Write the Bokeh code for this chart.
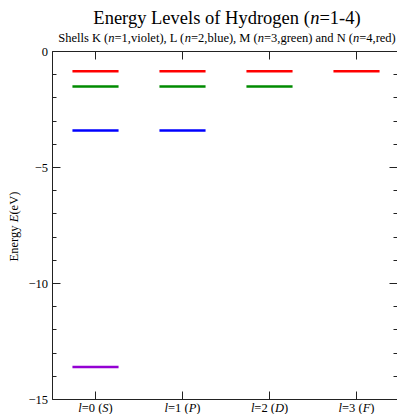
import math
from bokeh.plotting import figure
from bokeh.models import Label, LinearAxis, FixedTicker, SingleIntervalTicker, Range1d
from bokeh.embed import file_html
from bokeh.resources import INLINE

# ---------------- data ----------------
n_values = [1, 2, 3, 4]
energies = [-13.6, -3.4, -1.51, -0.85]          # eV
shell_colors = ["#9400d3", "#0000ff", "#008b00", "#ff0000"]
l_values = [0, 1, 2, 3]
l_letters = ["S", "P", "D", "F"]
y_ticks_major = 5
y_min, y_max = -15, 0

title_pieces = [("Energy Levels of Hydrogen (", False), ("n", True), ("=1-4)", False)]
subtitle_pieces = [("Shells K (", False), ("n", True), ("=1,violet), L (", False), ("n", True),
                   ("=2,blue), M (", False), ("n", True), ("=3,green) and N (", False),
                   ("n", True), ("=4,red)", False)]
ylabel_pieces = [("Energy ", False), ("E", True), (" (eV)", False)]

# ---------------- layout (page pixels) ----------------
W, H = 397, 414
BOX_L, BOX_T, BOX_B = 51.5, 51.0, 399.0     # plot box edges
X_LO = -0.5                                  # data x at box left
X_SCALE = 87.0                               # px per x unit
Y_SCALE = (BOX_B - BOX_T) / (y_max - y_min)  # px per eV
X_HI = X_LO + (W - BOX_L) / X_SCALE          # data x at canvas right edge
FONT = "Liberation Serif"
HALF = 0.265
SHIFT = 3.5                                  # baseline correction of labels

# the frame covers the whole canvas, so texts outside the box are not clipped
p = figure(width=W, height=H, output_backend="svg", toolbar_location=None, title=None,
           x_range=Range1d(X_LO - BOX_L / X_SCALE, X_HI),
           y_range=Range1d(y_min - (H - BOX_B) / Y_SCALE, y_max + BOX_T / Y_SCALE),
           x_axis_location=None, y_axis_location=None,
           min_border_left=0, min_border_top=0, min_border_bottom=0, min_border_right=0)
p.outline_line_color = None
p.background_fill_color = "white"
p.border_fill_color = "white"
p.xgrid.grid_line_color = None
p.ygrid.grid_line_color = None

AX = "#222222"

def style_axis(ax, show_labels):
    ax.axis_line_color = AX
    ax.major_tick_line_color = AX
    ax.minor_tick_line_color = AX
    ax.major_tick_in = 8
    ax.major_tick_out = 0
    ax.minor_tick_in = 4
    ax.minor_tick_out = 0
    ax.major_label_text_font = FONT
    if show_labels:
        ax.major_label_standoff = 4
        ax.major_label_text_font_size = "12.5px"
        ax.major_label_text_color = "black"
    else:
        ax.major_label_standoff = 0
        ax.major_label_text_font_size = "0px"
        ax.major_label_text_color = None

left = LinearAxis(ticker=SingleIntervalTicker(interval=y_ticks_major, num_minor_ticks=5),
                  fixed_location=X_LO, bounds=(y_min, y_max))
style_axis(left, True)
right = LinearAxis(ticker=SingleIntervalTicker(interval=y_ticks_major, num_minor_ticks=5),
                   fixed_location=X_HI, bounds=(y_min, y_max))
style_axis(right, False)
below = LinearAxis(ticker=FixedTicker(ticks=l_values), fixed_location=y_min,
                   bounds=(X_LO, X_HI))
style_axis(below, False)
above = LinearAxis(ticker=FixedTicker(ticks=l_values), fixed_location=y_max,
                   bounds=(X_LO, X_HI))
style_axis(above, False)
p.add_layout(left, "left")
p.add_layout(right, "right")
p.add_layout(below, "below")
p.add_layout(above, "above")

# ---------------- energy levels ----------------
xs0, xs1, ys, cs = [], [], [], []
for n, e, c in zip(n_values, energies, shell_colors):
    for l in l_values:
        if l < n:
            xs0.append(l - HALF)
            xs1.append(l + HALF)
            ys.append(e)
            cs.append(c)
p.segment(x0=xs0, y0=ys, x1=xs1, y1=ys, line_color=cs, line_width=2.5)

# ---------------- rich text helpers ----------------
ROMAN = {' ': 250, '(': 333, ')': 333, '=': 564, '-': 333, ',': 250,
         'E': 611, 'L': 611, 'H': 722, 'K': 722, 'M': 889, 'N': 722, 'S': 556,
         'a': 444, 'b': 500, 'd': 500, 'e': 444, 'f': 333, 'g': 500, 'h': 500,
         'i': 278, 'l': 278, 'n': 500, 'o': 500, 'r': 333, 's': 389, 't': 278,
         'u': 500, 'v': 500, 'y': 500, 'V': 722}
ITALIC = {'n': 500, 'l': 278, 'E': 611, 'S': 500, 'P': 611, 'D': 722, 'F': 611}

def text_w(t, italic, size):
    tbl = ITALIC if italic else ROMAN
    return sum(tbl.get(ch, 500) for ch in t) / 1000.0 * size

# screen units: origin at bottom-left of the frame (= whole canvas here)
def px(page_x):
    return page_x

def py(page_y):
    return H - (page_y - SHIFT)

def add_pieces(pieces, x, y, size, x_units="screen", center=True):
    widths = [text_w(t, it, size) for t, it in pieces]
    off = -sum(widths) / 2 if center else 0
    for (t, it), w in zip(pieces, widths):
        p.add_layout(Label(x=x, y=y, x_units=x_units, y_units="screen", x_offset=off,
                           text=t, text_font=FONT, text_font_size=f"{size}px",
                           text_font_style="italic" if it else "normal",
                           text_color="black", text_align="left",
                           text_baseline="alphabetic"))
        off += w

add_pieces(title_pieces, px(226.5), py(21), 18.5)
add_pieces(subtitle_pieces, px(226.5), py(40.5), 12.5)
for l, letter in zip(l_values, l_letters):
    pieces = [("l", True), (f"={l} (", False), (letter, True), (")", False)]
    add_pieces(pieces, l, py(411), 12.5, x_units="data")

# y axis label (rotated)
ysize = 12.5
widths = [text_w(t, it, ysize) for t, it in ylabel_pieces]
start = 224.5 + sum(widths) / 2
for (t, it), w in zip(ylabel_pieces, widths):
    p.add_layout(Label(x=px(17 - SHIFT), y=H - start, x_units="screen", y_units="screen",
                       angle=math.pi / 2, text=t, text_font=FONT,
                       text_font_size=f"{ysize}px",
                       text_font_style="italic" if it else "normal",
                       text_color="black", text_align="left",
                       text_baseline="alphabetic"))
    start -= w

open("out.html", "w").write(file_html(p, INLINE))
